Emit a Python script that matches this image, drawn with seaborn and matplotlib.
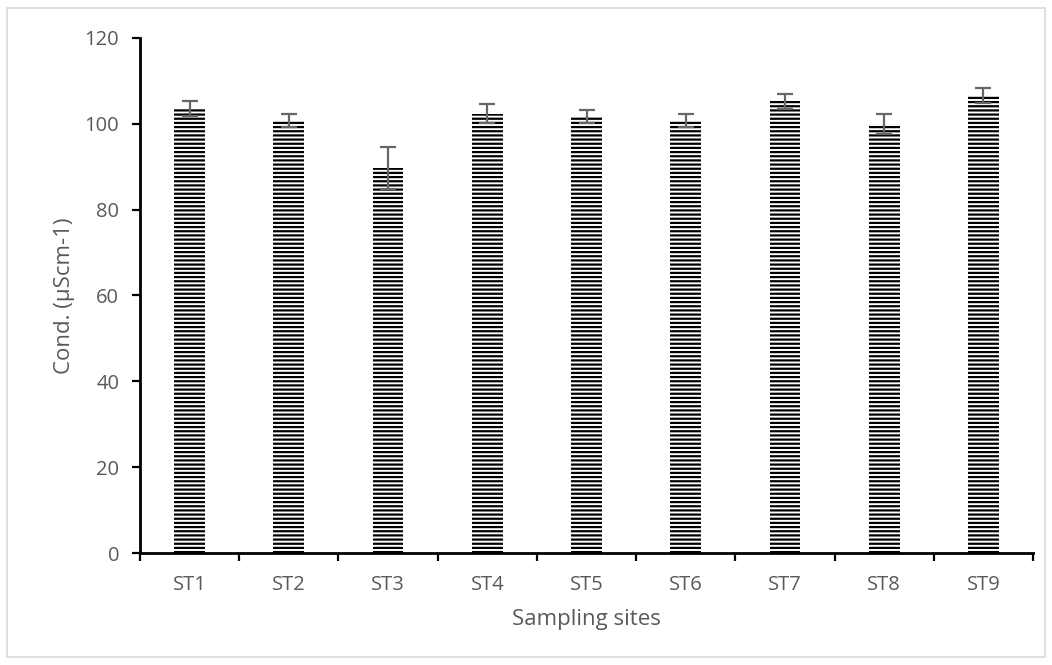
import matplotlib
matplotlib.use("Agg")
import matplotlib.pyplot as plt
import matplotlib.patches as mpatches
from matplotlib.ticker import FixedLocator, NullFormatter
import numpy as np
import pandas as pd
import seaborn as sns

sites = ["ST1", "ST2", "ST3", "ST4", "ST5", "ST6", "ST7", "ST8", "ST9"]
conductivity = [103.6, 100.7, 89.7, 102.3, 101.8, 100.8, 105.2, 100.0, 106.6]
std_err = [1.7, 1.5, 4.8, 2.2, 1.5, 1.6, 1.7, 2.4, 1.7]

sns.set_theme(style="white")
plt.rcParams["font.family"] = ["Open Sans", "DejaVu Sans"]
plt.rcParams["hatch.linewidth"] = 1.6
plt.rcParams["hatch.color"] = "black"

text_color = "#595959"

fig = plt.figure(figsize=(10.52, 6.65), dpi=100)
ax = fig.add_axes([0.1331, 0.1684, 0.982 - 0.1331, 0.9429 - 0.1684])

df = pd.DataFrame({"site": sites, "cond": conductivity})
sns.barplot(data=df, x="site", y="cond", ax=ax, color="white",
            edgecolor="black", linewidth=0, hatch="----", width=0.31,
            errorbar=None)

ax.errorbar(np.arange(len(sites)), conductivity, yerr=std_err, fmt="none",
            ecolor="#666666", elinewidth=1.6, capsize=6, capthick=1.6, zorder=5)

ax.set_ylim(0, 120)
ax.set_xlim(-0.5, len(sites) - 0.5)
ax.set_yticks(np.arange(0, 121, 20))

# category boundaries carry the tick marks; labels sit between them
ax.xaxis.set_major_locator(FixedLocator(np.arange(-0.5, len(sites), 1.0)))
ax.xaxis.set_major_formatter(NullFormatter())
ax.xaxis.set_minor_locator(FixedLocator(np.arange(len(sites))))
ax.set_xticklabels(sites, minor=True)
ax.tick_params(axis="x", which="major", direction="out", length=6, width=1.6,
               color="black", bottom=True)
ax.tick_params(axis="x", which="minor", length=0, pad=16, labelsize=14.5,
               labelcolor=text_color)
ax.tick_params(axis="y", direction="out", length=6, width=1.6, color="black",
               left=True, labelsize=14.5, labelcolor=text_color, pad=9)

for side in ["top", "right"]:
    ax.spines[side].set_visible(False)
for side in ["left", "bottom"]:
    ax.spines[side].set_color("black")
    ax.spines[side].set_linewidth(2)

ax.set_xlabel("Sampling sites", fontsize=16, color=text_color, labelpad=10)
ax.set_ylabel("Cond. (µScm-1)", fontsize=16, color=text_color, labelpad=7)

fig.patches.append(mpatches.Rectangle((7 / 1052, 8 / 665), 1038 / 1052, 649 / 665,
                                      transform=fig.transFigure, fill=False,
                                      edgecolor="#d9d9d9", linewidth=1.2))

fig.savefig("out.png", dpi=100)
